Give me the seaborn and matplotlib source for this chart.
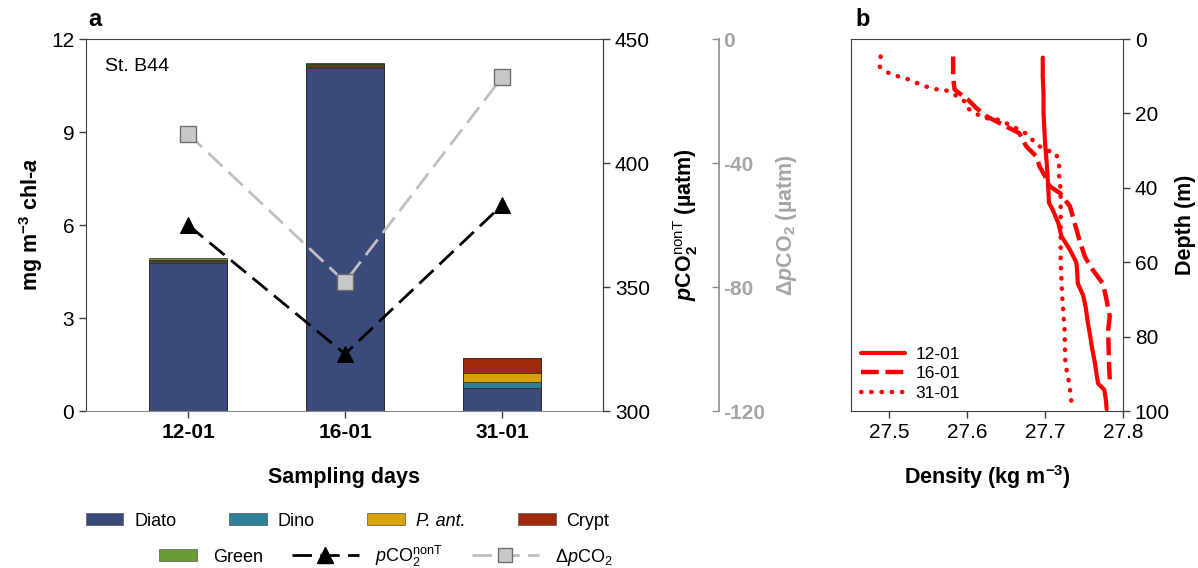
import numpy as np
import pandas as pd
import matplotlib
matplotlib.use('Agg')
import matplotlib.pyplot as plt
import seaborn as sns
from matplotlib.patches import Patch, Rectangle
from matplotlib.lines import Line2D
from matplotlib.legend_handler import HandlerPatch

# ---------------- data ----------------
days = ['12-01', '16-01', '31-01']
groups = ['Diato', 'Dino', 'P. ant.', 'Crypt', 'Green']
diato = [4.79, 11.07, 0.73]
dino = [0.01, 0.02, 0.22]
p_ant = [0.05, 0.04, 0.26]
crypt = [0.02, 0.05, 0.49]
green = [0.05, 0.05, 0.01]
pco2_nonT = [375, 323, 383]
delta_pco2 = [-30.6, -78.4, -12.4]

depth_1201 = [5, 10, 15, 20, 24, 28, 33, 36, 40, 44, 46, 49.5, 53, 56.7, 60, 62, 65.7,
              69, 72, 76.4, 80, 82.7, 87.2, 90, 92.6, 94.3, 97, 99.5]
dens_1201 = [27.697, 27.697, 27.698, 27.698, 27.699, 27.700, 27.702, 27.703, 27.704,
             27.705, 27.710, 27.717, 27.721, 27.732, 27.740, 27.741, 27.742, 27.749,
             27.752, 27.755, 27.758, 27.760, 27.764, 27.766, 27.768, 27.776, 27.778, 27.779]
depth_1601 = [4.7, 10.5, 13.6, 15.4, 16.3, 18.6, 20.8, 22.2, 23.5, 25.3, 28.9, 31.6, 34.3,
              36.9, 39.6, 41.4, 45, 49.5, 54, 58.5, 62, 65.7, 69.2, 74.6, 78.2, 87.2, 91.5]
dens_1601 = [27.582, 27.582, 27.584, 27.595, 27.601, 27.612, 27.625, 27.638, 27.650, 27.667,
             27.676, 27.689, 27.693, 27.700, 27.706, 27.719, 27.732, 27.738, 27.744, 27.751,
             27.761, 27.774, 27.778, 27.783, 27.781, 27.782, 27.783]
depth_3101 = [4.7, 7.5, 9.1, 10, 10.8, 11.8, 12.7, 13.5, 13.6, 15, 16.8, 18.5, 20, 21.3, 21.7,
              23, 24.4, 25.7, 28.4, 29.8, 30.7, 33.4, 36.9, 40.5, 51.3, 60.3, 69.2, 78.2,
              87.2, 92.6, 97.9]
dens_3101 = [27.489, 27.488, 27.499, 27.511, 27.524, 27.535, 27.546, 27.559, 27.571, 27.584,
             27.597, 27.600, 27.610, 27.625, 27.640, 27.654, 27.667, 27.678, 27.689, 27.701,
             27.714, 27.718, 27.718, 27.720, 27.720, 27.720, 27.722, 27.725, 27.726, 27.731,
             27.734]
profile_labels = ['12-01', '16-01', '31-01']

# ---------------- style ----------------
sns.set_style('ticks')
plt.rcParams['font.family'] = ['Liberation Sans', 'DejaVu Sans']
plt.rcParams['mathtext.fontset'] = 'custom'
plt.rcParams['mathtext.rm'] = 'Liberation Sans'
plt.rcParams['mathtext.it'] = 'Liberation Sans:italic'
plt.rcParams['mathtext.bf'] = 'Liberation Sans:bold'
plt.rcParams['mathtext.sf'] = 'Liberation Sans'
try:
    plt.rcParams['mathtext.bfit'] = 'Liberation Sans:italic:bold'
except KeyError:
    pass
plt.rcParams['axes.unicode_minus'] = False
plt.rcParams['text.color'] = 'black'
plt.rcParams['axes.labelcolor'] = 'black'
plt.rcParams['xtick.color'] = 'black'
plt.rcParams['ytick.color'] = 'black'

colors = ['#3A4A7B', '#2E8196', '#D8A105', '#A22A0C', '#6B9B34']
spine_c = '#404040'
gray_ax = '#A6A6A6'
gray_line = '#C0C0C0'

fig = plt.figure(figsize=(11.98, 5.68), dpi=100)
ax = fig.add_axes([0.0718, 0.2764, 0.4315, 0.6549])

x_pos = np.arange(len(days))
layers = np.array([diato, dino, p_ant, crypt, green])
cum = np.cumsum(layers, axis=0)
for i in reversed(range(len(groups))):
    sns.barplot(x=x_pos, y=cum[i], native_scale=True, color=colors[i], saturation=1,
                width=0.5, edgecolor='#262626', linewidth=0.5, errorbar=None, ax=ax, zorder=2)

ax.set_xlim(-0.65, 2.643)
ax.set_ylim(0, 12)
ax.set_yticks([0, 3, 6, 9, 12])
ax.set_xticks(x_pos, days)
for t in ax.get_xticklabels():
    t.set_fontweight('bold')
ax.tick_params(axis='both', labelsize=15, length=5, width=1, color=spine_c, direction='out')
ax.set_xlabel('Sampling days', fontsize=15.5, fontweight='bold')
ax.set_ylabel(r'mg m$^{\mathbf{-3}}$ chl-$\mathbfit{a}$', fontsize=15.5, fontweight='bold')
ax.xaxis.set_label_coords(0.5, -0.15)
ax.yaxis.set_label_coords(-0.079, 0.5)
for s in ['left', 'top', 'right']:
    ax.spines[s].set_color(spine_c)
ax.spines['bottom'].set_color('#8A8A8A')
ax.text(0.037, 0.927, 'St. B44', transform=ax.transAxes, fontsize=14, va='center', ha='left')

# pCO2 axis
ax2 = ax.twinx()
sns.lineplot(x=x_pos, y=pco2_nonT, ax=ax2, color='black', linewidth=2,
             linestyle=(0, (7, 3)), marker='^', markersize=12, markeredgecolor='black',
             markerfacecolor='black', legend=False)
ax2.set_ylim(300, 450)
ax2.set_yticks([300, 350, 400, 450])
ax2.tick_params(axis='y', labelsize=15, length=5, width=1, color=spine_c)
ax2.set_ylabel(r'$\mathbfit{p}\mathbf{CO}_{\mathbf{2}}^{\mathrm{nonT}}$ (µatm)',
               fontsize=15.5, fontweight='bold')
ax2.yaxis.set_label_coords(1.131, 0.5)
for s in ['left', 'top', 'bottom']:
    ax2.spines[s].set_visible(False)
ax2.spines['right'].set_color(spine_c)

# delta pCO2 axis
ax3 = ax.twinx()
sns.lineplot(x=x_pos, y=delta_pco2, ax=ax3, color=gray_line, linewidth=2,
             linestyle=(0, (7, 3)), marker='s', markersize=11, markeredgecolor='#6E6E6E',
             markerfacecolor='#C8C8C8', markeredgewidth=1, legend=False)
ax3.set_ylim(-120, 0)
ax3.set_yticks([-120, -80, -40, 0])
ax3.spines['right'].set_position(('axes', 1.224))
for s in ['left', 'top', 'bottom']:
    ax3.spines[s].set_visible(False)
ax3.spines['right'].set_color('#8C8C8C')
ax3.spines['right'].set_linewidth(1.2)
ax3.tick_params(axis='y', labelsize=15, length=5, width=1, color='#8C8C8C',
                direction='in', labelcolor=gray_ax)
for t in ax3.get_yticklabels():
    t.set_fontweight('bold')
ax3.set_ylabel('Δ' + r'$\mathbfit{p}$CO$_{\mathbf{2}}$ (µatm)', fontsize=15.5,
               fontweight='bold', color=gray_ax)
ax3.yaxis.set_label_coords(1.331, 0.5)
ax.set_xlim(-0.65, 2.643)

fig.text(0.0735, 0.965, 'a', fontsize=17, fontweight='bold', va='center')

# ---------------- panel b ----------------
axb = fig.add_axes([0.7104, 0.2764, 0.2270, 0.6549])
red = '#FF0000'
sns.lineplot(x=dens_1201, y=depth_1201, sort=False, estimator=None, ax=axb, color=red,
             linewidth=3, solid_capstyle='round', legend=False)
sns.lineplot(x=dens_1601, y=depth_1601, sort=False, estimator=None, ax=axb, color=red,
             linewidth=3.2, linestyle=(0, (4, 1.5)), legend=False)
sns.lineplot(x=dens_3101, y=depth_3101, sort=False, estimator=None, ax=axb, color=red,
             linewidth=3.2, linestyle=(0, (0.1, 2.2)), dash_capstyle='round', legend=False)
axb.set_xlim(27.451, 27.8)
axb.set_ylim(100, 0)
axb.set_xticks([27.5, 27.6, 27.7, 27.8])
axb.set_yticks([0, 20, 40, 60, 80, 100])
axb.yaxis.tick_right()
axb.yaxis.set_label_position('right')
axb.tick_params(axis='both', labelsize=15, length=5, width=1, color=spine_c)
axb.set_xlabel(r'Density (kg m$^{\mathbf{-3}}$)', fontsize=15.5, fontweight='bold')
axb.set_ylabel('Depth (m)', fontsize=15.5, fontweight='bold', rotation=90)
axb.xaxis.set_label_coords(0.5, -0.14)
axb.yaxis.set_label_coords(1.19, 0.5)
for s in axb.spines.values():
    s.set_color(spine_c)
prof_handles = [
    Line2D([], [], color=red, lw=3),
    Line2D([], [], color=red, lw=3.2, linestyle=(0, (4, 1.5))),
    Line2D([], [], color=red, lw=3.2, linestyle=(0, (0.1, 2.2)), dash_capstyle='round'),
]
axb.legend(prof_handles, profile_labels, loc='lower left', frameon=False, fontsize=12.5,
           handlelength=2.5, labelspacing=0.25, handletextpad=0.6,
           bbox_to_anchor=(0.0, 0.0), borderaxespad=0.2)
fig.text(0.714, 0.965, 'b', fontsize=17, fontweight='bold', va='center')

# ---------------- bottom legend ----------------
patch_handles = [Patch(facecolor=colors[i], edgecolor='#555555', linewidth=0.5)
                 for i in range(len(groups))]
labels_row1 = ['Diato', 'Dino', 'P. ant.', 'Crypt']
leg1 = fig.legend(patch_handles[:4], labels_row1, loc='center', bbox_to_anchor=(0.29, 0.0827),
                  ncol=4, frameon=False, fontsize=13, handlelength=2.1, handleheight=0.65,
                  columnspacing=2.9, handletextpad=0.6)
leg1.get_texts()[2].set_fontstyle('italic')


def small_patch(legend, orig_handle, xdescent, ydescent, width, height, fontsize):
    w = 2.1 * fontsize
    return Rectangle((-xdescent + width - w, -ydescent), w, height)


line_p = Line2D([], [], color='black', lw=2, linestyle=(0, (7, 3)), marker='^',
                markersize=11, markerfacecolor='black', markeredgecolor='black')
line_d = Line2D([], [], color=gray_line, lw=2, linestyle=(0, (7, 3)), marker='s',
                markersize=10, markerfacecolor='#C8C8C8', markeredgecolor='#6E6E6E')
labels_row2 = ['Green', r'$\mathit{p}$CO$_2^{\mathrm{nonT}}$', r'Δ$\mathit{p}$CO$_2$']
fig.legend([patch_handles[4], line_p, line_d], labels_row2, loc='center',
           bbox_to_anchor=(0.31, 0.021), ncol=3, frameon=False, fontsize=13,
           handlelength=3.7, handleheight=0.65, columnspacing=1.6, handletextpad=0.9,
           handler_map={Patch: HandlerPatch(patch_func=small_patch)})

fig.savefig('out.png', dpi=100)
